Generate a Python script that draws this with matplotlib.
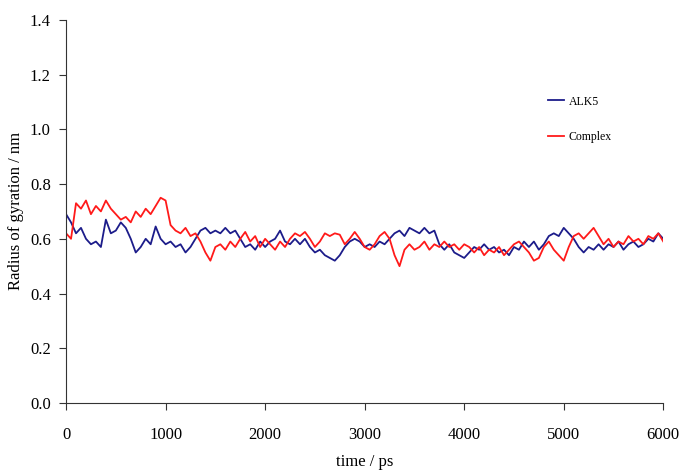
import numpy as np
import matplotlib
matplotlib.use("Agg")
import matplotlib.pyplot as plt

plt.rcParams['font.family'] = ['Liberation Serif', 'DejaVu Serif']

# time axis (ps), one reading every 50 ps
time_ps = np.arange(0, 6001, 50)

# Radius of gyration (nm)
alk5 = [
    0.69, 0.66, 0.62, 0.64, 0.60, 0.58, 0.59, 0.57, 0.67, 0.62,
    0.63, 0.66, 0.64, 0.60, 0.55, 0.57, 0.60, 0.58, 0.645, 0.60,
    0.58, 0.59, 0.57, 0.58, 0.55, 0.57, 0.60, 0.63, 0.64, 0.62,
    0.63, 0.62, 0.64, 0.62, 0.63, 0.60, 0.57, 0.58, 0.56, 0.59,
    0.57, 0.59, 0.60, 0.63, 0.59, 0.58, 0.60, 0.58, 0.60, 0.57,
    0.55, 0.56, 0.54, 0.53, 0.52, 0.54, 0.57, 0.59, 0.60, 0.59,
    0.57, 0.58, 0.57, 0.59, 0.58, 0.60, 0.62, 0.63, 0.61, 0.64,
    0.63, 0.62, 0.64, 0.62, 0.63, 0.58, 0.56, 0.58, 0.55, 0.54,
    0.53, 0.55, 0.57, 0.56, 0.58, 0.56, 0.57, 0.55, 0.56, 0.54,
    0.57, 0.56, 0.59, 0.57, 0.59, 0.56, 0.58, 0.61, 0.62, 0.61,
    0.64, 0.62, 0.60, 0.57, 0.55, 0.57, 0.56, 0.58, 0.56, 0.58,
    0.57, 0.59, 0.56, 0.58, 0.59, 0.57, 0.58, 0.60, 0.59, 0.62,
    0.60,
]
complex_rg = [
    0.62, 0.60, 0.73, 0.71, 0.74, 0.69, 0.72, 0.70, 0.74, 0.71,
    0.69, 0.67, 0.68, 0.66, 0.70, 0.68, 0.71, 0.69, 0.72, 0.75,
    0.74, 0.65, 0.63, 0.62, 0.64, 0.61, 0.62, 0.59, 0.55, 0.52,
    0.57, 0.58, 0.56, 0.59, 0.57, 0.60, 0.625, 0.59, 0.61, 0.57,
    0.60, 0.58, 0.56, 0.59, 0.57, 0.60, 0.62, 0.61, 0.625, 0.60,
    0.57, 0.59, 0.62, 0.61, 0.62, 0.615, 0.58, 0.60, 0.625, 0.60,
    0.57, 0.56, 0.58, 0.61, 0.625, 0.60, 0.54, 0.50, 0.56, 0.58,
    0.56, 0.57, 0.59, 0.56, 0.58, 0.57, 0.59, 0.57, 0.58, 0.56,
    0.58, 0.57, 0.55, 0.57, 0.54, 0.56, 0.55, 0.57, 0.54, 0.56,
    0.58, 0.59, 0.57, 0.55, 0.52, 0.53, 0.57, 0.59, 0.56, 0.54,
    0.52, 0.57, 0.61, 0.62, 0.60, 0.62, 0.64, 0.61, 0.58, 0.60,
    0.57, 0.59, 0.58, 0.61, 0.59, 0.60, 0.58, 0.61, 0.60, 0.62,
    0.59,
]

fig = plt.figure(figsize=(6.81, 4.73), dpi=100)
ax = fig.add_axes([0.097, 0.148, 0.877, 0.81])

ax.plot(time_ps, alk5, color='#1c1c8a', linewidth=1.3, label='ALK5')
ax.plot(time_ps, complex_rg, color='#ff1a1a', linewidth=1.3, label='Complex')

ax.set_xlim(0, 6000)
ax.set_ylim(0, 1.4)
ax.set_xticks(np.arange(0, 6001, 1000))
ax.set_yticks(np.arange(0, 1.41, 0.2))
ax.yaxis.set_major_formatter(matplotlib.ticker.FormatStrFormatter('%.1f'))
ax.tick_params(axis='both', direction='out', length=5, labelsize=12, color='#333333')
ax.tick_params(axis='x', pad=12)
ax.tick_params(axis='y', pad=6)
for side in ['top', 'right']:
    ax.spines[side].set_visible(False)
for side in ['left', 'bottom']:
    ax.spines[side].set_color('#333333')

ax.set_xlabel('time / ps', fontsize=12, labelpad=8)
ax.set_ylabel('Radius of gyration / nm', fontsize=12, labelpad=4)

ax.legend(loc='upper left', bbox_to_anchor=(0.79, 0.83), frameon=False,
          fontsize=8.5, handlelength=1.3, handletextpad=0.4, labelspacing=2.0)

fig.savefig('out.png', dpi=100)
